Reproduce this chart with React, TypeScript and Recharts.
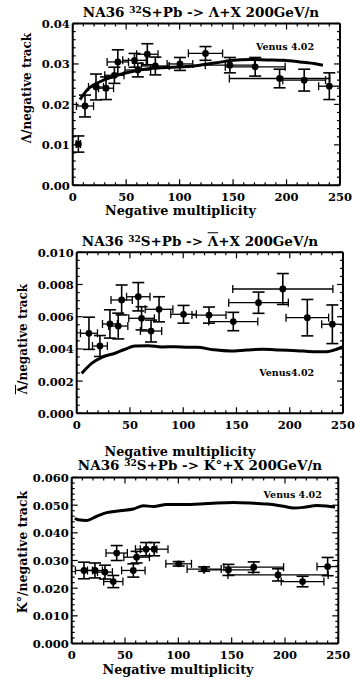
import React from 'react';
import { ComposedChart, Line, Scatter, XAxis, YAxis, ErrorBar } from 'recharts';

// ---------- data ----------
const multiplicity = [11.5, 21.8, 31.2, 39, 42.2, 57.8, 60.9, 69.8, 77.3, 100.3, 124.2, 147, 170.7, 193.5, 216.5, 240];
const multiplicityErr = [8, 7, 7, 9, 10, 11, 12, 10, 13, 12, 16, 23, 28, 47, 20, 10];

const lambdaMult = [5.3, ...multiplicity];
const lambdaMultErr = [2, ...multiplicityErr];
const lambdaRatio = [0.0102, 0.0196, 0.0243, 0.0240, 0.0272, 0.0305, 0.0309, 0.0285, 0.0324, 0.0295, 0.0300, 0.0326, 0.0297, 0.0293, 0.0264, 0.0260, 0.0245];
const lambdaRatioErr = [0.002, 0.0027, 0.0032, 0.0028, 0.002, 0.003, 0.0017, 0.0017, 0.0026, 0.0022, 0.0016, 0.0017, 0.0019, 0.0023, 0.0023, 0.0027, 0.0033];

const antiLambdaRatio = [0.00497, 0.00418, 0.00555, 0.00542, 0.00704, 0.00724, 0.0059, 0.00511, 0.00646, 0.00615, 0.0061, 0.0057, 0.00687, 0.00772, 0.00594, 0.00553];
const antiLambdaRatioErr = [0.001, 0.00065, 0.00088, 0.0008, 0.00093, 0.00088, 0.00072, 0.00068, 0.00078, 0.00055, 0.0005, 0.00057, 0.00066, 0.00096, 0.00113, 0.0012];

const kaonRatio = [0.0264, 0.0264, 0.0258, 0.0224, 0.0327, 0.0264, 0.0312, 0.0341, 0.0341, 0.0288, 0.0269, 0.0266, 0.0276, 0.0248, 0.0224, 0.0278];
const kaonRatioErr = [0.003, 0.0027, 0.0025, 0.0022, 0.0027, 0.0024, 0.0021, 0.0024, 0.0024, 0.0008, 0.0008, 0.002, 0.0019, 0.0022, 0.0019, 0.0033];

const venusLambdaMult = [6.8, 15, 25.6, 41.6, 56.7, 72.3, 87.9, 103.5, 119, 134.6, 150.2, 165.8, 181.4, 197, 212.6, 228, 234];
const venusLambda = [0.0212, 0.0240, 0.0256, 0.0272, 0.0282, 0.0289, 0.0291, 0.0293, 0.0297, 0.0303, 0.0309, 0.0311, 0.0310, 0.0309, 0.0305, 0.0300, 0.0297];

const venusAntiMult = [4.7, 14, 23.5, 36, 45.4, 54.7, 67.3, 79.8, 92.4, 104.9, 112.7, 128.3, 144, 159.6, 175.2, 190.9, 206.5, 222, 234.7, 244, 250];
const venusAnti = [0.00248, 0.0031, 0.00348, 0.00373, 0.00398, 0.00418, 0.0042, 0.00412, 0.00414, 0.0041, 0.0041, 0.00395, 0.00387, 0.00393, 0.00398, 0.00393, 0.00389, 0.00383, 0.00383, 0.00398, 0.00414];

const venusKaonMult = [3, 6.2, 14, 23.5, 32.8, 45.3, 57.8, 67.2, 76.6, 89.1, 104.7, 120.3, 136, 151.7, 167.3, 183, 198.6, 208, 217.4, 230, 239, 247];
const venusKaon = [0.0453, 0.0447, 0.0445, 0.046, 0.0473, 0.048, 0.0486, 0.0498, 0.0495, 0.0502, 0.0502, 0.0504, 0.0508, 0.051, 0.0508, 0.0504, 0.0496, 0.049, 0.0492, 0.0499, 0.0497, 0.0493];

const xMajorTicks = [0, 50, 100, 150, 200, 250];
const lambdaYMajor = [0, 0.01, 0.02, 0.03, 0.04];
const antiYMajor = [0, 0.002, 0.004, 0.006, 0.008, 0.01];
const kaonYMajor = [0, 0.01, 0.02, 0.03, 0.04, 0.05, 0.06];

// ---------- helpers ----------
const steps = (max: number, step: number) => {
  const out: number[] = [];
  const n = Math.round(max / step);
  for (let i = 0; i <= n; i++) out.push(+(i * step).toFixed(6));
  return out;
};
const zip = (xs: number[], xe: number[], ys: number[], ye: number[]) =>
  xs.map((x, i) => ({ x, y: ys[i], ex: xe[i], ey: ye[i] }));

const FONT = "'DejaVu Serif', serif";

const isMajor = (majors: number[], v: number) => majors.some((m) => Math.abs(m - v) < 1e-9);

const makeTick = (side: string, majors: number[], digits: number | null) => (props: any) => {
  const { x, y, payload } = props;
  const v = payload.value;
  const major = isMajor(majors, v);
  const len = major ? 6 : 3;
  let line;
  if (side === 'bottom') line = <line x1={x} y1={y} x2={x} y2={y - len} stroke="#000" strokeWidth={1.2} />;
  else if (side === 'top') line = <line x1={x} y1={y} x2={x} y2={y + len} stroke="#000" strokeWidth={1.2} />;
  else if (side === 'left') line = <line x1={x} y1={y} x2={x + len} y2={y} stroke="#000" strokeWidth={1.2} />;
  else line = <line x1={x} y1={y} x2={x - len} y2={y} stroke="#000" strokeWidth={1.2} />;
  let label = null;
  if (major && digits !== null) {
    const txt = digits === 0 ? String(Math.round(v)) : v.toFixed(digits);
    if (side === 'bottom')
      label = (
        <text x={x} y={y + 15.2} textAnchor="middle" fontFamily={FONT} fontWeight="bold" fontSize={11.5} fill="#000">
          {txt}
        </text>
      );
    else if (side === 'left')
      label = (
        <text x={x - 3} y={y + 4.5} textAnchor="end" fontFamily={FONT} fontWeight="bold" fontSize={11.5} fill="#000">
          {txt}
        </text>
      );
  }
  return (
    <g>
      {line}
      {label}
    </g>
  );
};

const Dot = (props: any) => {
  const { cx, cy } = props;
  if (cx == null || cy == null) return null;
  return <circle cx={cx} cy={cy} r={3.4} fill="#000" />;
};

type PanelProps = {
  top: number;
  height: number;
  margin: { top: number; right: number; bottom: number; left: number };
  yMax: number;
  yMinorStep: number;
  yMajor: number[];
  yDigits: number;
  points: { x: number; y: number; ex: number; ey: number }[];
  curve: { x: number; y: number }[];
};

const Panel = ({ top, height, margin, yMax, yMinorStep, yMajor, yDigits, points, curve }: PanelProps) => {
  const xTicks = steps(250, 10);
  const yTicks = steps(yMax, yMinorStep);
  const axisLine = { stroke: '#000', strokeWidth: 2 };
  // axes take 1px each; shrink the margins so the plot box stays put
  const m = { top: margin.top - 1, bottom: margin.bottom - 1, left: margin.left - 1, right: margin.right - 1 };
  return (
    <div style={{ position: 'absolute', left: 0, top, width: 355, height }}>
      <ComposedChart width={355} height={height} margin={m}>
        <XAxis
          xAxisId="b"
          type="number"
          dataKey="x"
          domain={[0, 250]}
          allowDataOverflow
          ticks={xTicks}
          interval={0}
          tickSize={0}
          tickMargin={0}
          tickLine={false}
          axisLine={axisLine}
          height={1}
          tick={makeTick('bottom', xMajorTicks, 0)}
        />
        <XAxis
          xAxisId="t"
          orientation="top"
          type="number"
          dataKey="x"
          domain={[0, 250]}
          allowDataOverflow
          ticks={xTicks}
          interval={0}
          tickSize={0}
          tickMargin={0}
          tickLine={false}
          axisLine={axisLine}
          height={1}
          tick={makeTick('top', xMajorTicks, null)}
        />
        <YAxis
          yAxisId="l"
          type="number"
          dataKey="y"
          domain={[0, yMax]}
          allowDataOverflow
          ticks={yTicks}
          interval={0}
          tickSize={0}
          tickMargin={0}
          tickLine={false}
          axisLine={axisLine}
          width={1}
          tick={makeTick('left', yMajor, yDigits)}
        />
        <YAxis
          yAxisId="r"
          orientation="right"
          type="number"
          dataKey="y"
          domain={[0, yMax]}
          allowDataOverflow
          ticks={yTicks}
          interval={0}
          tickSize={0}
          tickMargin={0}
          tickLine={false}
          axisLine={axisLine}
          width={1}
          tick={makeTick('right', yMajor, null)}
        />
        <Line
          xAxisId="t"
          yAxisId="r"
          data={curve}
          dataKey="y"
          type="monotone"
          stroke="#000"
          strokeWidth={3}
          dot={false}
          isAnimationActive={false}
        />
        <Scatter xAxisId="b" yAxisId="l" data={points} dataKey="y" shape={<Dot />} isAnimationActive={false}>
          <ErrorBar dataKey="ex" direction="x" width={4} stroke="#000" strokeWidth={1.3} isAnimationActive={false} />
          <ErrorBar dataKey="ey" direction="y" width={6} stroke="#000" strokeWidth={1.6} isAnimationActive={false} />
        </Scatter>
      </ComposedChart>
    </div>
  );
};

const textStyle: React.CSSProperties = {
  position: 'absolute',
  fontFamily: FONT,
  color: '#000',
  whiteSpace: 'nowrap',
  lineHeight: 1,
};

const Title = ({ cx, cy, children }: any) => (
  <div style={{ ...textStyle, left: cx, top: cy, transform: 'translate(-50%, -50%)', fontSize: 13.5, fontWeight: 600 }}>
    {children}
  </div>
);
const XLabel = ({ cx, cy, children }: any) => (
  <div style={{ ...textStyle, left: cx, top: cy, transform: 'translate(-50%, -50%)', fontSize: 12.8, fontWeight: 'bold' }}>
    {children}
  </div>
);
const YLabel = ({ cx, cy, size, children }: any) => (
  <div
    style={{
      ...textStyle,
      left: cx,
      top: cy,
      transform: 'translate(-50%, -50%) rotate(-90deg)',
      fontSize: size,
      fontWeight: 'bold',
    }}
  >
    {children}
  </div>
);
const Sup = ({ children }: any) => (
  <span style={{ fontSize: 9, position: 'relative', top: -4, fontWeight: 'bold', lineHeight: 0 }}>{children}</span>
);
const Bar = ({ children }: any) => <span style={{ textDecoration: 'overline' }}>{children}</span>;
const Venus = ({ cx, cy, children }: any) => (
  <div style={{ ...textStyle, left: cx, top: cy, transform: 'translate(-50%, -50%)', fontSize: 9.5, fontWeight: 'bold' }}>
    {children}
  </div>
);

export default function App() {
  const lambdaPoints = zip(lambdaMult, lambdaMultErr, lambdaRatio, lambdaRatioErr);
  const antiPoints = zip(multiplicity, multiplicityErr, antiLambdaRatio, antiLambdaRatioErr);
  const kaonPoints = zip(multiplicity, multiplicityErr, kaonRatio, kaonRatioErr);
  const lambdaCurve = venusLambdaMult.map((x, i) => ({ x, y: venusLambda[i] }));
  const antiCurve = venusAntiMult.map((x, i) => ({ x, y: venusAnti[i] }));
  const kaonCurve = venusKaonMult.map((x, i) => ({ x, y: venusKaon[i] }));

  return (
    <div style={{ position: 'absolute', left: 0, top: 0, width: 355, height: 679, background: '#fff', overflow: 'hidden' }}>
      <Panel
        top={0}
        height={225}
        margin={{ top: 23.5, right: 15, bottom: 39.7, left: 72.7 }}
        yMax={0.04}
        yMinorStep={0.002}
        yMajor={lambdaYMajor}
        yDigits={2}
        points={lambdaPoints}
        curve={lambdaCurve}
      />
      <Panel
        top={228}
        height={225}
        margin={{ top: 24.3, right: 12, bottom: 39.7, left: 76.7 }}
        yMax={0.01}
        yMinorStep={0.0005}
        yMajor={antiYMajor}
        yDigits={3}
        points={antiPoints}
        curve={antiCurve}
      />
      <Panel
        top={455}
        height={224}
        margin={{ top: 22.5, right: 16.7, bottom: 35.5, left: 71.7 }}
        yMax={0.06}
        yMinorStep={0.002}
        yMajor={kaonYMajor}
        yDigits={3}
        points={kaonPoints}
        curve={kaonCurve}
      />

      <Title cx={201} cy={13}>
        NA36 <Sup>32</Sup>S+Pb -&gt; Λ+X 200GeV/n
      </Title>
      <Title cx={200} cy={242}>
        NA36 <Sup>32</Sup>S+Pb -&gt; <Bar>Λ</Bar>+X 200GeV/n
      </Title>
      <Title cx={200} cy={466}>
        NA36 <Sup>32</Sup>S+Pb -&gt; K°+X 200GeV/n
      </Title>

      <XLabel cx={180.5} cy={210.5}>Negative multiplicity</XLabel>
      <XLabel cx={180} cy={451.5}>Negative multiplicity</XLabel>
      <XLabel cx={178} cy={670}>Negative multiplicity</XLabel>

      <YLabel cx={26.5} cy={88} size={12}>Λ/negative track</YLabel>
      <YLabel cx={23} cy={339} size={12}>
        <Bar>Λ</Bar>/negative track
      </YLabel>
      <YLabel cx={23} cy={551.7} size={12.5}>K°/negative track</YLabel>

      <Venus cx={285} cy={47}>Venus 4.02</Venus>
      <Venus cx={286.7} cy={373.3}>Venus4.02</Venus>
      <Venus cx={292.7} cy={495}>Venus 4.02</Venus>
    </div>
  );
}
